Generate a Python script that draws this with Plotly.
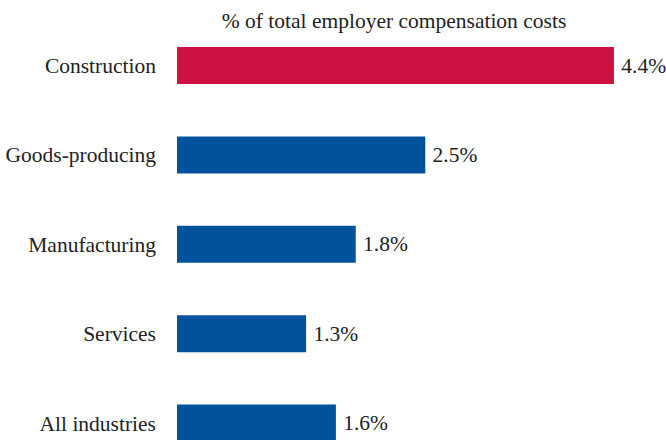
import plotly.graph_objects as go

categories = ["Construction", "Goods-producing", "Manufacturing", "Services", "All industries"]
values = [4.4, 2.5, 1.8, 1.3, 1.6]
labels = ["4.4%", "2.5%", "1.8%", "1.3%", "1.6%"]
colors = ["#CE1141", "#00539B", "#00539B", "#00539B", "#00539B"]
title = "% of total employer compensation costs"

FONT = "Liberation Serif, Times New Roman, serif"
SIZE = 21.5

fig = go.Figure(go.Bar(
    x=values, y=categories, orientation="h",
    marker=dict(color=colors, line=dict(width=0)),
    width=0.414,
    text=labels, texttemplate="\u2009%{text}", textposition="outside",
    textfont=dict(family=FONT, size=SIZE, color="#222222"),
    cliponaxis=False,
    hoverinfo="skip",
))

fig.update_layout(
    width=666, height=440,
    margin=dict(l=177, r=0, t=0, b=0, autoexpand=False),
    paper_bgcolor="white", plot_bgcolor="white",
    showlegend=False,
    uniformtext=dict(minsize=SIZE, mode="show"),
    title=dict(text=title, x=394/666, xref="container", xanchor="center",
               y=1 - 20/440, yref="container", yanchor="middle",
               font=dict(family=FONT, size=SIZE, color="#222222")),
    xaxis=dict(range=[0, 4.924], visible=False, fixedrange=True, automargin=False),
    yaxis=dict(type="category", range=[4.19, -0.733], showgrid=False, zeroline=False,
               showline=False, ticks="", ticklabelstandoff=20, automargin=False,
               tickfont=dict(family=FONT, size=SIZE, color="#222222"), fixedrange=True),
)

fig.write_html("out.html", config={"displayModeBar": False},
               post_script="document.body.style.margin='0';document.body.style.overflow='hidden';")
